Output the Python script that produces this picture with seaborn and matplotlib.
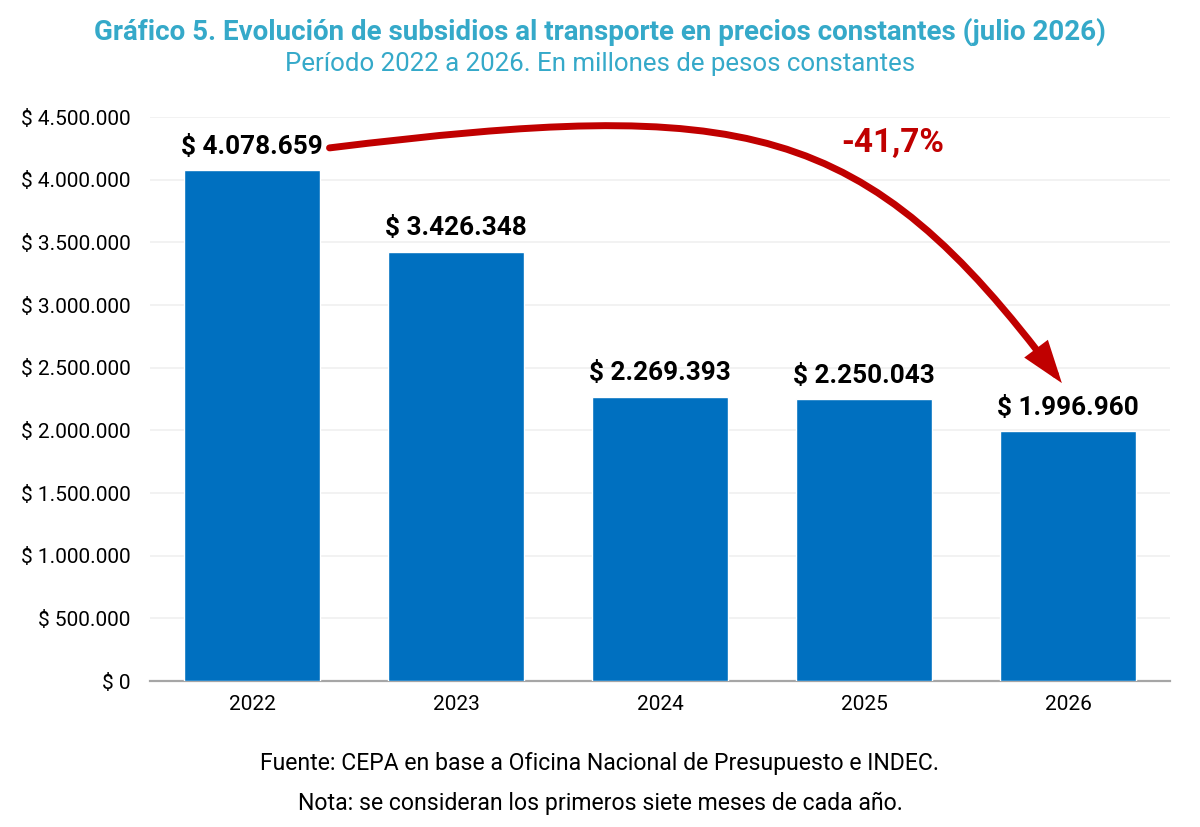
import matplotlib
matplotlib.use("Agg")
import numpy as np
import matplotlib.pyplot as plt
from matplotlib.patches import FancyArrowPatch
from matplotlib.path import Path
from matplotlib.transforms import IdentityTransform
import seaborn as sns
import pandas as pd

YEARS = ["2022", "2023", "2024", "2025", "2026"]
SUBSIDIES = [4078659, 3426348, 2269393, 2250043, 1996960]
Y_TICKS = [0, 500000, 1000000, 1500000, 2000000, 2500000, 3000000, 3500000, 4000000, 4500000]
CHANGE_LABEL = "-41,7%"

TITLE = "Gráfico 5. Evolución de subsidios al transporte en precios constantes (julio 2026)"
SUBTITLE = "Período 2022 a 2026. En millones de pesos constantes"
SOURCE = "Fuente: CEPA en base a Oficina Nacional de Presupuesto e INDEC."
NOTE = "Nota: se consideran los primeros siete meses de cada año."

BAR_COLOR = "#0070C0"
TITLE_COLOR = "#35A9C9"
RED = "#C00000"


def fmt_pesos(v: float) -> str:
    return "$ " + f"{v:,.0f}".replace(",", ".")


def run() -> None:
    sns.set_theme(style="white")
    plt.rcParams["font.family"] = ["Roboto", "DejaVu Sans"]

    df = pd.DataFrame({"year": YEARS, "value": SUBSIDIES})

    fig = plt.figure(figsize=(12, 8.27), dpi=100)
    ax = fig.add_axes([0.125, 0.1765, 0.85, 0.682])

    sns.barplot(data=df, x="year", y="value", color=BAR_COLOR, width=0.667,
                saturation=1, ax=ax, zorder=3)

    ax.set_ylim(0, 4500000)
    ax.set_xlim(-0.5, len(YEARS) - 0.5)
    ax.set_yticks(Y_TICKS)
    ax.set_yticklabels([fmt_pesos(t) for t in Y_TICKS])
    ax.tick_params(axis="both", labelsize=15, colors="#000000", length=0)
    ax.tick_params(axis="x", pad=10)
    ax.tick_params(axis="y", pad=14)
    ax.set_xlabel("")
    ax.set_ylabel("")
    ax.yaxis.grid(True, color="#F2F2F2", linewidth=1.4, zorder=0)
    for side in ["top", "right", "left"]:
        ax.spines[side].set_visible(False)
    ax.spines["bottom"].set_color("#A6A6A6")
    ax.spines["bottom"].set_linewidth(1.6)

    for i, v in enumerate(SUBSIDIES):
        ax.annotate(fmt_pesos(v), (i, v), xytext=(0, 8), textcoords="offset points",
                    ha="center", va="bottom", fontsize=18.8, fontweight="bold",
                    color="#000000")

    # curved arrow (cubic bezier in pixels) from first label to last label
    p0 = ax.transData.transform((0.38, SUBSIDIES[0] + 175000))
    p3 = ax.transData.transform((len(YEARS) - 1 - 0.03, SUBSIDIES[-1] + 380000))
    a0 = np.deg2rad(7)
    p1 = p0 + 420 * np.array([np.cos(a0), np.sin(a0)])
    p2 = p3 + 330 * np.array([-0.6, 0.8])
    path = Path([p0, p1, p2, p3], [Path.MOVETO, Path.CURVE4, Path.CURVE4, Path.CURVE4])
    arrow = FancyArrowPatch(path=path, transform=IdentityTransform(),
                            arrowstyle="-|>,head_length=1.6,head_width=0.55",
                            mutation_scale=13, color=RED, lw=5, zorder=5,
                            joinstyle="miter")
    fig.patches.append(arrow)
    arrow.set_figure(fig)

    ax.text(3.14, 4290000, CHANGE_LABEL, ha="center", va="center",
            fontsize=24, fontweight="bold", color=RED)

    fig.text(0.5, 0.961, TITLE, ha="center", va="center", fontsize=20,
             fontweight="bold", color=TITLE_COLOR)
    fig.text(0.5, 0.923, SUBTITLE, ha="center", va="center", fontsize=18.6,
             color=TITLE_COLOR)
    fig.text(0.5, 0.077, SOURCE, ha="center", va="center", fontsize=16.6,
             color="#000000")
    fig.text(0.5, 0.029, NOTE, ha="center", va="center", fontsize=16.6,
             color="#000000")

    fig.savefig("out.png", dpi=100)
    plt.close(fig)


if __name__ == "__main__":
    run()
